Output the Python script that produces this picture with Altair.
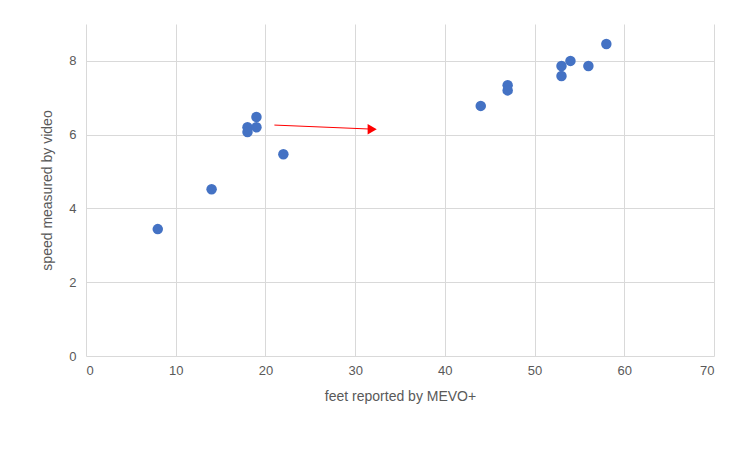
import pandas as pd
import altair as alt

# values
feet = [8, 14, 18, 18, 19, 19, 22, 44, 47, 47, 53, 53, 54, 56, 58]
speed = [3.44, 4.52, 6.2, 6.07, 6.48, 6.2, 5.47, 6.78, 7.34, 7.2, 7.86, 7.59, 8.0, 7.86, 8.46]

arrow_x = [21, 31.9]
arrow_y = [6.26, 6.15]

df = pd.DataFrame({"feet": feet, "speed": speed})
arrow = pd.DataFrame({"x": arrow_x, "y": arrow_y, "order": [0, 1]})
head = arrow.iloc[[1]]

x_scale = alt.Scale(domain=[0, 70], nice=False)
y_scale = alt.Scale(domain=[0, 9], nice=False)
axis_style = dict(domain=False, ticks=False, gridColor="#d9d9d9", labelColor="#595959",
                  labelFontSize=13, titleColor="#595959", titleFontSize=14, labelOverlap=False,
                  titleFontWeight="normal", labelFont="Liberation Sans", titleFont="Liberation Sans")

points = alt.Chart(df).mark_circle(size=110, color="#4472c4", opacity=1).encode(
    x=alt.X("feet:Q", scale=x_scale, title="feet reported by MEVO+",
            axis=alt.Axis(values=list(range(0, 71, 10)), titlePadding=12, labelPadding=8, **axis_style)),
    y=alt.Y("speed:Q", scale=y_scale, title="speed measured by video",
            axis=alt.Axis(values=list(range(0, 10)), titlePadding=14, labelPadding=10, **axis_style)),
)

line = alt.Chart(arrow).mark_line(color="#ff0000", strokeWidth=1).encode(
    x=alt.X("x:Q", scale=x_scale), y=alt.Y("y:Q", scale=y_scale), order="order:Q"
)
tip = alt.Chart(head).mark_point(shape="triangle-right", filled=True, color="#ff0000",
                                 size=110, opacity=1).encode(
    x=alt.X("x:Q", scale=x_scale), y=alt.Y("y:Q", scale=y_scale)
)

chart = alt.layer(line, tip, points).properties(
    width=628, height=332, autosize=alt.AutoSizeParams(type="none"),
    padding={"left": 78, "top": 16, "right": 25, "bottom": 80},
    background="white",
).configure_view(stroke=None)

chart.save("out.html", embed_options={"renderer": "svg", "actions": False})
